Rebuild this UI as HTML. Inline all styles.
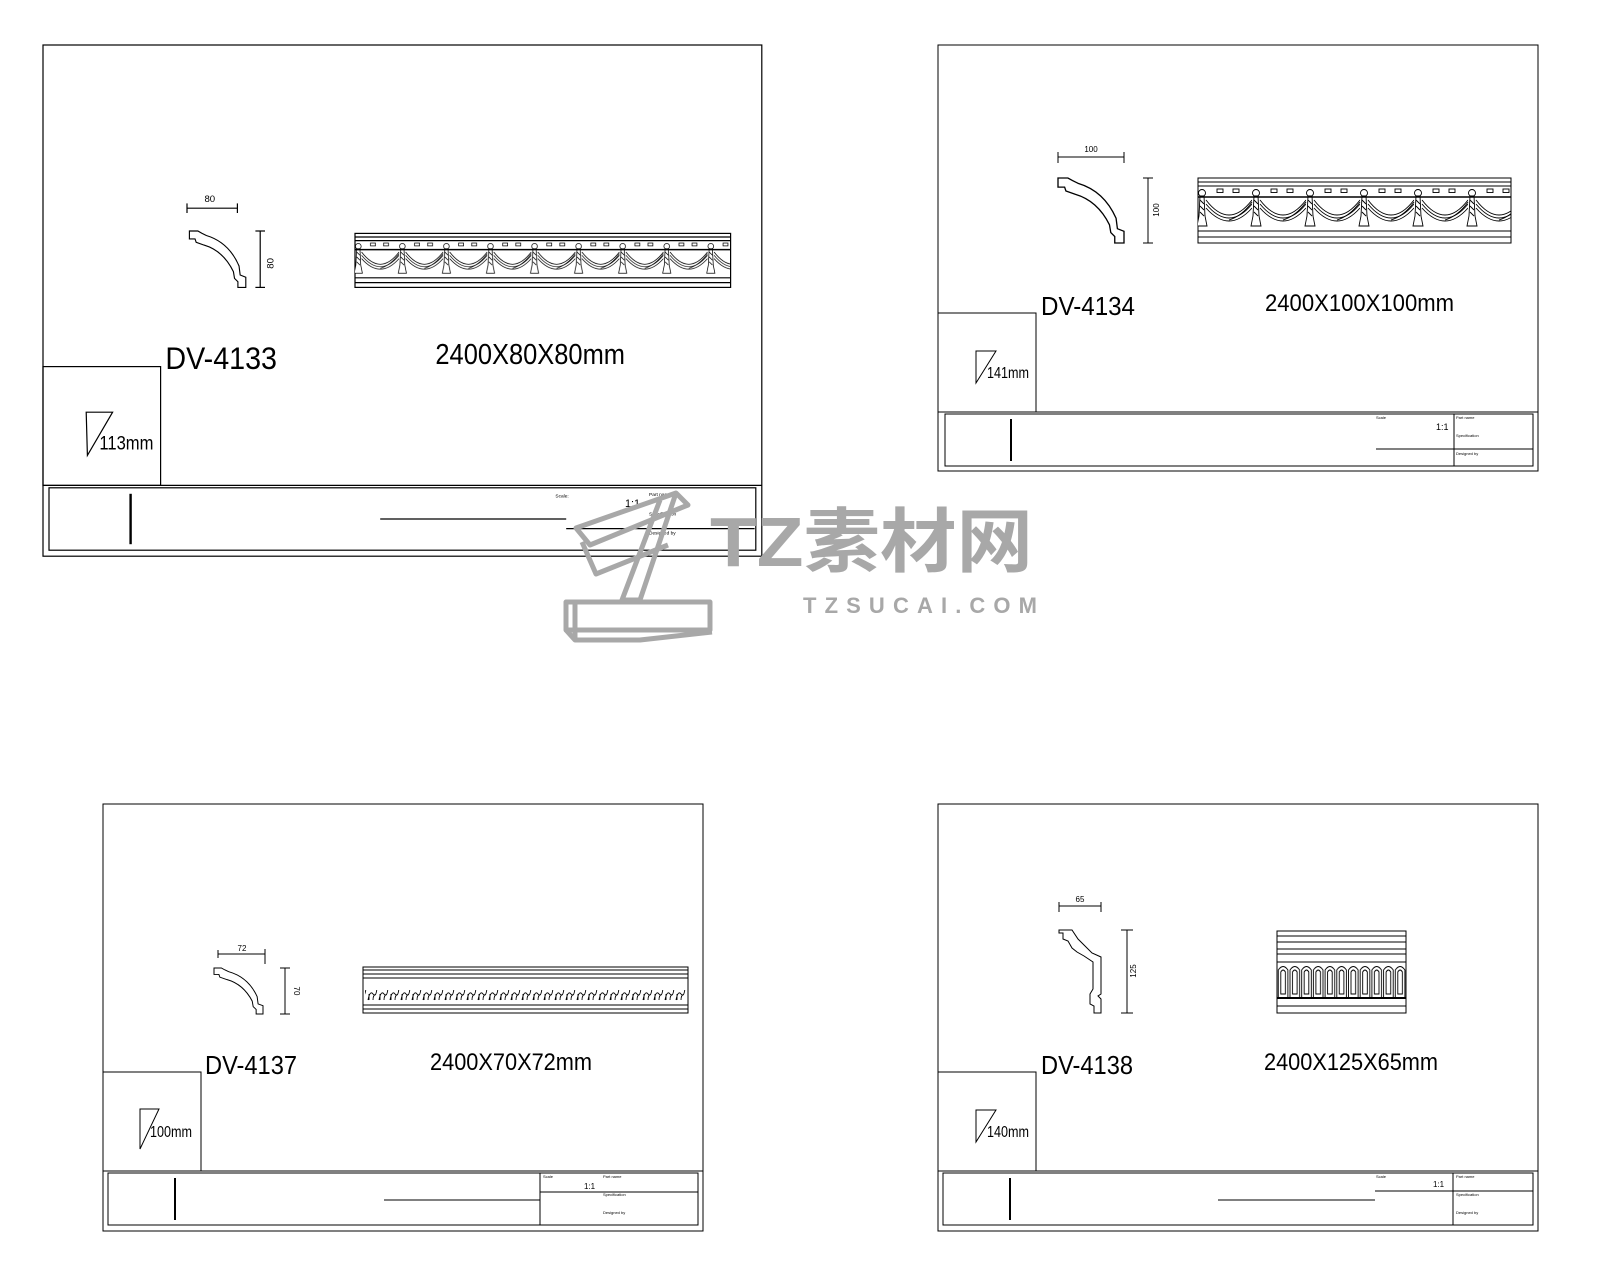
<!DOCTYPE html>
<html><head><meta charset="utf-8"><style>
html,body{margin:0;padding:0;background:#fff;}
svg{display:block;}
text{font-family:"Liberation Sans","Noto Sans CJK SC",sans-serif;}
</style></head><body>
<svg width="1600" height="1280" viewBox="0 0 1600 1280" xmlns="http://www.w3.org/2000/svg">
<defs>
  <g id="swagcell" fill="none" stroke="#000" stroke-width="0.9">
    <path d="M8 14 Q31 44 54 14 M8 18 Q31 46 54 18 M8 22 Q31 48 54 22"/>
    <path d="M0 16 Q-10 30 -23 34"/>
    <rect x="19" y="3" width="6" height="3.5"/>
    <rect x="35" y="3" width="6" height="3.5"/>
    <circle cx="4" cy="7" r="3.5"/>
    <path d="M2 10 L6 10 L7 30 L9 40 L-1 40 L1 30 Z" fill="#fff"/>
    <path d="M2 14 L6 18 M2 20 L6 24 M2 26 L6 30"/>
  </g>
  <pattern id="swag" patternUnits="userSpaceOnUse" x="260" y="141" width="54" height="45">
    <use href="#swagcell"/>
    <use href="#swagcell" x="54"/>
  </pattern>
  <pattern id="swag1" patternUnits="userSpaceOnUse" x="382.4" y="239.7" width="54" height="45" patternTransform="scale(0.68)">
    <use href="#swagcell"/>
    <use href="#swagcell" x="54"/>
  </pattern>
  <pattern id="leaf" patternUnits="userSpaceOnUse" x="0" y="0" width="11" height="20">
    <path d="M1 16 q2 -10 5 -6 q3 4 4 -6 M2 16 l0 -6 M6 16 q0 -5 3 -6" fill="none" stroke="#000" stroke-width="0.9"/>
  </pattern>
  <pattern id="flute" patternUnits="userSpaceOnUse" x="0" y="0" width="11.7" height="40">
    <path d="M1 34 L1 6 q4.8 -7 9.6 0 L10.6 34" fill="none" stroke="#000" stroke-width="0.9"/>
    <path d="M3.5 30 L3.5 8 q2.3 -4 4.6 0 L8.1 30 Z" fill="none" stroke="#000" stroke-width="0.9"/>
  </pattern>
  <path id="prof" d="M0 0 L0.15 0 L0.22 0.04 L0.3 0.08 Q0.7 0.2 0.88 0.62 L0.9 0.78 L1 0.82 L1 1 L0.86 1 L0.86 0.9 L0.8 0.84 L0.78 0.72 Q0.6 0.35 0.26 0.25 L0.12 0.2 L0.1 0.14 L0 0.14 Z" fill="none" stroke="#000" stroke-width="0.02"/>
</defs>

<!-- FRAME 1 (scaled 1.2) -->
<g transform="translate(43,45) scale(1.2)" fill="none" stroke="#000" stroke-width="1">
  <rect x="0" y="0" width="599" height="426"/>
  <rect x="0" y="268" width="98" height="99"/>
  <line x1="0" y1="367" x2="599" y2="367"/>
  <rect x="5" y="369" width="589" height="52"/>
  <line x1="73" y1="374" x2="73" y2="416" stroke-width="2"/>
  <line x1="281" y1="395" x2="436" y2="395"/>
  <line x1="436" y1="403" x2="593" y2="403"/>
  <path d="M36 306 L58 306 L37 342 Z"/>
  <line x1="120" y1="136" x2="162" y2="136"/><line x1="120" y1="132" x2="120" y2="140"/><line x1="162" y1="132" x2="162" y2="140"/>
  <line x1="181" y1="155" x2="181" y2="202"/><line x1="177" y1="155" x2="185" y2="155"/><line x1="177" y1="202" x2="185" y2="202"/>
  <use href="#prof" transform="translate(122,155) scale(47,47)"/>
  <rect x="260" y="157" width="313" height="45"/>
  <line x1="260" y1="160" x2="573" y2="160"/><line x1="260" y1="163" x2="573" y2="163"/>
  <rect x="260" y="163" width="313" height="31" fill="url(#swag1)" stroke="none"/>
  <line x1="260" y1="170.5" x2="573" y2="170.5" stroke-width="1.3"/>
  <line x1="260" y1="194" x2="573" y2="194"/><line x1="260" y1="198" x2="573" y2="198"/>
  <g stroke="none" fill="#000">
    <text x="139" y="131" font-size="8" text-anchor="middle">80</text>
    <text x="192" y="182" font-size="8" transform="rotate(-90 192 182)" text-anchor="middle">80</text>
    <text x="102" y="270" font-size="26" textLength="93" lengthAdjust="spacingAndGlyphs">DV-4133</text>
    <text x="327" y="266" font-size="24" textLength="158" lengthAdjust="spacingAndGlyphs">2400X80X80mm</text>
    <text x="47" y="337" font-size="16" textLength="45" lengthAdjust="spacingAndGlyphs">113mm</text>
    <text x="427" y="377" font-size="4">Scale:</text>
    <text x="485" y="385" font-size="9">1:1</text>
    <text x="505" y="376" font-size="4">Part name</text>
    <text x="505" y="392" font-size="4">Specification</text>
    <text x="505" y="408" font-size="4">Designed by</text>
  </g>
</g>

<!-- FRAME 2 -->
<g transform="translate(938,45)" fill="none" stroke="#000" stroke-width="1">
  <rect x="0" y="0" width="600" height="426"/>
  <rect x="0" y="268" width="98" height="99"/>
  <line x1="0" y1="367" x2="600" y2="367"/>
  <rect x="7" y="369" width="588" height="52"/>
  <line x1="73" y1="374" x2="73" y2="416" stroke-width="2"/>
  <line x1="516" y1="369" x2="516" y2="421"/>
  <line x1="438" y1="404" x2="595" y2="404"/>
  <path d="M38 306 L58 306 L38 338 Z"/>
  <line x1="120" y1="112" x2="186" y2="112"/><line x1="120" y1="107" x2="120" y2="118"/><line x1="186" y1="107" x2="186" y2="118"/>
  <line x1="210" y1="133" x2="210" y2="198"/><line x1="205" y1="133" x2="215" y2="133"/><line x1="205" y1="198" x2="215" y2="198"/>
  <use href="#prof" transform="translate(120,133) scale(66,65)"/>
  <rect x="260" y="133" width="313" height="65"/>
  <line x1="260" y1="137" x2="573" y2="137"/><line x1="260" y1="141" x2="573" y2="141"/>
  <rect x="260" y="141" width="313" height="45" fill="url(#swag)" stroke="none"/>
  <line x1="260" y1="152" x2="573" y2="152" stroke-width="1.5"/>
  <line x1="260" y1="186" x2="573" y2="186"/><line x1="260" y1="192" x2="573" y2="192"/>
  <g stroke="none" fill="#000">
    <text x="153" y="107" font-size="8" text-anchor="middle">100</text>
    <text x="221" y="165" font-size="8" transform="rotate(-90 221 165)" text-anchor="middle">100</text>
    <text x="103" y="270" font-size="26" textLength="94" lengthAdjust="spacingAndGlyphs">DV-4134</text>
    <text x="327" y="266" font-size="24" textLength="189" lengthAdjust="spacingAndGlyphs">2400X100X100mm</text>
    <text x="49" y="333" font-size="16" textLength="42" lengthAdjust="spacingAndGlyphs">141mm</text>
    <text x="438" y="374" font-size="4">Scale</text>
    <text x="498" y="385" font-size="9">1:1</text>
    <text x="518" y="374" font-size="4">Part name</text>
    <text x="518" y="392" font-size="4">Specification</text>
    <text x="518" y="410" font-size="4">Designed by</text>
  </g>
</g>

<!-- FRAME 3 -->
<g transform="translate(103,804)" fill="none" stroke="#000" stroke-width="1">
  <rect x="0" y="0" width="600" height="427"/>
  <rect x="0" y="268" width="98" height="99"/>
  <line x1="0" y1="367" x2="600" y2="367"/>
  <rect x="5" y="369" width="590" height="52"/>
  <line x1="72" y1="374" x2="72" y2="416" stroke-width="2"/>
  <line x1="437" y1="369" x2="437" y2="421"/>
  <line x1="437" y1="388" x2="595" y2="388"/>
  <line x1="281" y1="396" x2="437" y2="396"/>
  <path d="M37 305 L56 305 L37 345 Z"/>
  <line x1="115" y1="150" x2="162" y2="150"/><line x1="115" y1="146" x2="115" y2="154"/><line x1="162" y1="145" x2="162" y2="160"/>
  <line x1="182" y1="164" x2="182" y2="210"/><line x1="177" y1="164" x2="187" y2="164"/><line x1="177" y1="210" x2="187" y2="210"/>
  <use href="#prof" transform="translate(111,164) scale(49,46)"/>
  <rect x="260" y="163" width="325" height="46"/>
  <line x1="260" y1="166" x2="585" y2="166"/><line x1="260" y1="170" x2="585" y2="170"/><line x1="260" y1="174" x2="585" y2="174"/>
  <line x1="260" y1="201" x2="585" y2="201"/><line x1="260" y1="205" x2="585" y2="205"/>
  <rect x="262" y="186" width="321" height="15" fill="url(#leaf)" stroke="none"/>
  <g stroke="none" fill="#000">
    <text x="139" y="147" font-size="8" text-anchor="middle">72</text>
    <text x="191" y="187" font-size="8" transform="rotate(90 191 187)" text-anchor="middle">70</text>
    <text x="102" y="270" font-size="26" textLength="92" lengthAdjust="spacingAndGlyphs">DV-4137</text>
    <text x="327" y="266" font-size="24" textLength="162" lengthAdjust="spacingAndGlyphs">2400X70X72mm</text>
    <text x="47" y="333" font-size="16" textLength="42" lengthAdjust="spacingAndGlyphs">100mm</text>
    <text x="440" y="374" font-size="4">Scale</text>
    <text x="481" y="385" font-size="8">1:1</text>
    <text x="500" y="374" font-size="4">Part name</text>
    <text x="500" y="392" font-size="4">Specification</text>
    <text x="500" y="410" font-size="4">Designed by</text>
  </g>
</g>

<!-- FRAME 4 -->
<g transform="translate(938,804)" fill="none" stroke="#000" stroke-width="1">
  <rect x="0" y="0" width="600" height="427"/>
  <rect x="0" y="268" width="98" height="99"/>
  <line x1="0" y1="367" x2="600" y2="367"/>
  <rect x="5" y="369" width="590" height="52"/>
  <line x1="72" y1="374" x2="72" y2="416" stroke-width="2"/>
  <line x1="515" y1="369" x2="515" y2="421"/>
  <line x1="437" y1="387" x2="595" y2="387"/>
  <line x1="280" y1="396" x2="437" y2="396"/>
  <path d="M38 306 L58 306 L38 338 Z"/>
  <line x1="121" y1="102" x2="163" y2="102"/><line x1="121" y1="98" x2="121" y2="108"/><line x1="163" y1="98" x2="163" y2="108"/>
  <line x1="189" y1="126" x2="189" y2="209"/><line x1="183" y1="126" x2="195" y2="126"/><line x1="183" y1="209" x2="195" y2="209"/>
  <path d="M121 126 L134 126 L140 135 L154 149 L163 153 L163 190 L160 192 L163 195 L163 209 L156 209 L156 202 L152 200 L152 190 L155 185 L155 158 L146 152 L139 148 L134 144 L130 137 L125 135 L125 129 L121 129 Z"/>
  <rect x="339" y="127" width="129" height="82"/>
  <line x1="339" y1="132" x2="468" y2="132"/><line x1="339" y1="138" x2="468" y2="138"/>
  <line x1="339" y1="145" x2="468" y2="145"/><line x1="339" y1="150" x2="468" y2="150"/>
  <line x1="339" y1="158" x2="468" y2="158"/>
  <line x1="339" y1="194" x2="468" y2="194" stroke-width="2"/>
  <line x1="339" y1="202" x2="468" y2="202"/>
  <rect x="339" y="159" width="129" height="35" fill="url(#flute)" stroke="none"/>
  <g stroke="none" fill="#000">
    <text x="142" y="98" font-size="8" text-anchor="middle">65</text>
    <text x="198" y="167" font-size="8" transform="rotate(-90 198 167)" text-anchor="middle">125</text>
    <text x="103" y="270" font-size="26" textLength="92" lengthAdjust="spacingAndGlyphs">DV-4138</text>
    <text x="326" y="266" font-size="24" textLength="174" lengthAdjust="spacingAndGlyphs">2400X125X65mm</text>
    <text x="49" y="333" font-size="16" textLength="42" lengthAdjust="spacingAndGlyphs">140mm</text>
    <text x="438" y="374" font-size="4">Scale</text>
    <text x="495" y="383" font-size="8">1:1</text>
    <text x="518" y="374" font-size="4">Part name</text>
    <text x="518" y="392" font-size="4">Specification</text>
    <text x="518" y="410" font-size="4">Designed by</text>
  </g>
</g>

<!-- WATERMARK -->
<g fill="none" stroke="#a8a8a8" stroke-width="5" stroke-linejoin="round">
  <path d="M576 528 L676 493 L688 505 L590 545 Z"/>
  <path d="M582 542 L596 574 L668 545"/>
  <path d="M676 493 L640 600 L622 600 L660 500"/>
  <path d="M566 602 L710 602 L710 630 L566 630 Z"/>
  <path d="M566 630 L575 640 L640 640 L712 632"/>
  <path d="M575 604 L575 638"/>
</g>
<text x="710" y="566" font-size="70" font-weight="bold" fill="#a8a8a8" textLength="323" lengthAdjust="spacingAndGlyphs">TZ素材网</text>
<text x="803" y="613" font-size="22" font-weight="bold" fill="#a8a8a8" textLength="234" lengthAdjust="spacing">TZSUCAI.COM</text>
</svg>
</body></html>
